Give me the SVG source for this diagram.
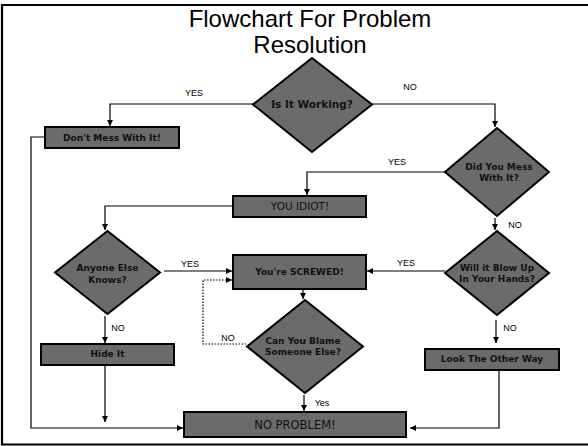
<svg xmlns="http://www.w3.org/2000/svg" width="588" height="446" viewBox="0 0 588 446">
<defs>
<marker id="arr" viewBox="0 0 6 6" refX="6" refY="3" markerWidth="6" markerHeight="6" markerUnits="userSpaceOnUse" orient="auto">
<path d="M0,0 L6,3 L0,6 Z" fill="#000"/>
</marker>
</defs>
<style>
.shape{fill:#6b6b6b;stroke:#000;stroke-width:2}
.nt{font-family:"DejaVu Sans","Liberation Sans",sans-serif;font-weight:bold;font-size:9px;fill:#111;text-anchor:middle}
.bt{font-family:"DejaVu Sans","Liberation Sans",sans-serif;font-size:10.5px;fill:#111;text-anchor:middle}
.lbl{font-family:"Liberation Sans",sans-serif;font-size:9px;fill:#000;text-anchor:middle}
.title{font-family:"Liberation Sans",sans-serif;font-size:24px;fill:#000;text-anchor:middle}
.c{fill:none;stroke:#000;stroke-width:1.2;marker-end:url(#arr)}
.dot{stroke-dasharray:1.5 1.5}
</style>
<rect width="588" height="446" fill="#fff"/>
<path d="M600,5 H2 V444.5 H600" fill="none" stroke="#000" stroke-width="2.2"/>
<text class="title" x="310" y="27">Flowchart For Problem</text>
<text class="title" x="310" y="53">Resolution</text>

<g id="connectors">
<path class="c" d="M253,104 H110 V126"/>
<path class="c" d="M372,104 H495 V127"/>
<path class="c" d="M445,172 H307 V195"/>
<path class="c" d="M233,206 H105 V230"/>
<path class="c" d="M45,137 H31 V428 H183"/>
<path class="c" d="M164,271 H232"/>
<path class="c" d="M445,271 H367"/>
<path class="c" d="M495,218 V230"/>
<path class="c" d="M496,320 V343"/>
<path class="c" d="M499,370 V428 H410"/>
<path class="c" d="M303,289 V299"/>
<path class="c" d="M304,395 V411"/>
<path class="c dot" d="M246,344 H203 V280 H232"/>
<path class="c" d="M105,316 V343"/>
<path class="c" d="M105,365 V422"/>
<text class="lbl" x="194" y="96">YES</text>
<text class="lbl" x="410" y="90">NO</text>
<text class="lbl" x="397" y="165">YES</text>
<text class="lbl" x="190" y="267">YES</text>
<text class="lbl" x="406" y="266">YES</text>
<text class="lbl" x="515" y="228">NO</text>
<text class="lbl" x="510" y="331">NO</text>
<text class="lbl" x="322" y="406">Yes</text>
<text class="lbl" x="228" y="341">NO</text>
<text class="lbl" x="118" y="331">NO</text>
</g>

<g id="is-it-working">
<polygon class="shape" points="312,58 372,104.5 312,152 253,104.5"/>
<text class="nt" x="312" y="108" style="font-size:10.5px">Is It Working?</text>
</g>
<g id="dont-mess">
<rect class="shape" x="45" y="127" width="134" height="21"/>
<text class="nt" x="112" y="141">Don't Mess With It!</text>
</g>
<g id="did-you-mess">
<polygon class="shape" points="497,128 549,172 497,216 445,172"/>
<text class="nt" x="499" y="170">Did You Mess</text>
<text class="nt" x="499" y="181">With It?</text>
</g>
<g id="you-idiot">
<rect class="shape" x="233" y="196" width="133" height="21"/>
<text class="bt" x="300" y="210">YOU IDIOT!</text>
</g>
<g id="anyone-else">
<polygon class="shape" points="107.5,231 160,272.5 107.5,314 55,272.5"/>
<text class="nt" x="107.5" y="271">Anyone Else</text>
<text class="nt" x="107.5" y="283">Knows?</text>
</g>
<g id="youre-screwed">
<rect class="shape" x="233" y="255" width="133" height="34"/>
<text class="nt" x="299.5" y="275">You're SCREWED!</text>
</g>
<g id="will-it-blow">
<polygon class="shape" points="497,231 549,273 497,315 445,273"/>
<text class="nt" x="497" y="271">Will it Blow Up</text>
<text class="nt" x="497" y="282">In Your Hands?</text>
</g>
<g id="can-you-blame">
<polygon class="shape" points="305,300 363,346.5 305,393 247,346.5"/>
<text class="nt" x="303" y="344">Can You Blame</text>
<text class="nt" x="303" y="355">Someone Else?</text>
</g>
<g id="hide-it">
<rect class="shape" x="41" y="344" width="133" height="21"/>
<text class="nt" x="107.5" y="357">Hide It</text>
</g>
<g id="look-other-way">
<rect class="shape" x="425" y="349" width="134" height="21"/>
<text class="nt" x="492" y="362">Look The Other Way</text>
</g>
<g id="no-problem">
<rect class="shape" x="184" y="412" width="222" height="25"/>
<text class="bt" x="295" y="429" style="font-size:11.5px">NO PROBLEM!</text>
</g>
</svg>
